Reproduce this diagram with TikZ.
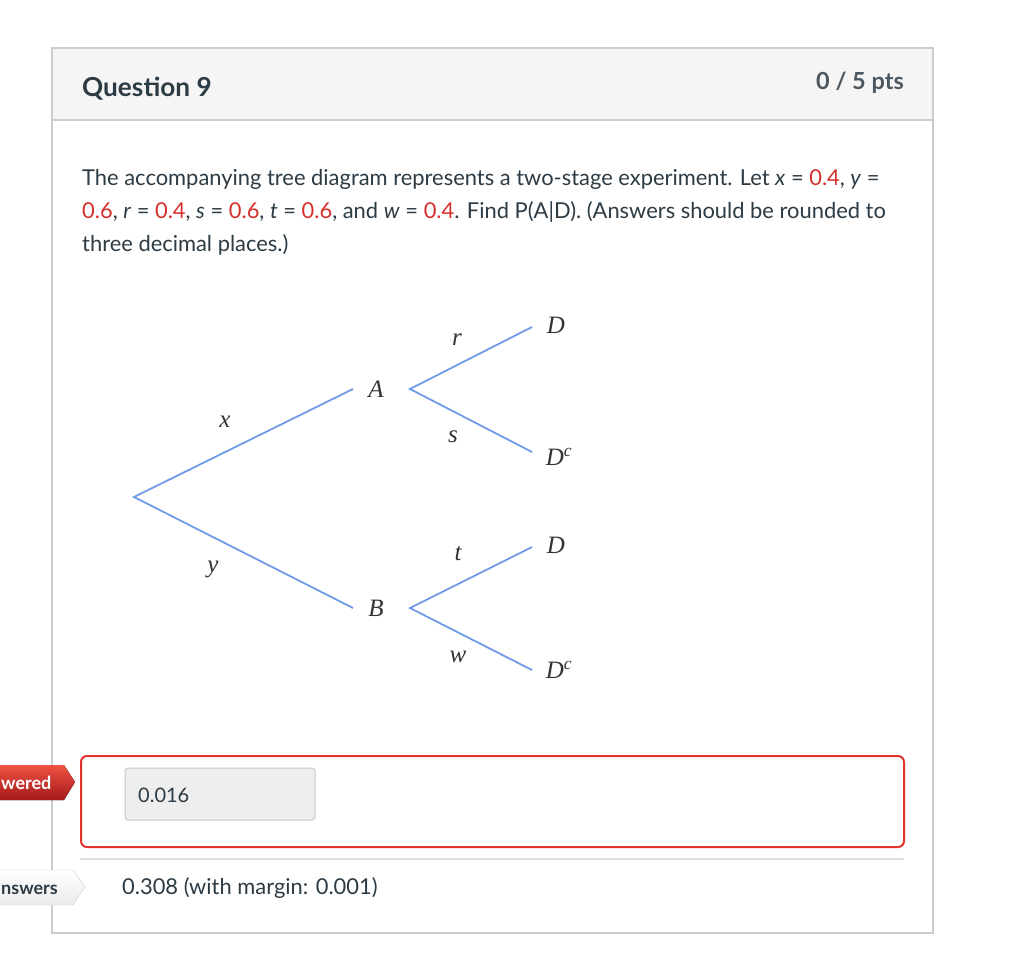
\documentclass[tikz,border=0pt]{standalone}
\usepackage{fontspec}
\setmainfont{Lato}
\newfontfamily\treefont{Liberation Serif}
\usetikzlibrary{shapes.symbols}
\definecolor{txt}{HTML}{2D3B45}
\definecolor{hdr}{HTML}{F5F5F5}
\definecolor{brd}{HTML}{C7CDD1}
\definecolor{ans}{HTML}{D5302B}
\definecolor{branch}{HTML}{6F9BE8}
\definecolor{boxred}{HTML}{E3342C}
\definecolor{inp}{HTML}{EEEEEE}
\definecolor{inpb}{HTML}{C8C8C8}
\newcommand{\num}[1]{\textcolor{ans}{#1}}
\tikzset{
  body/.style={font=\fontsize{21.9}{24}\selectfont, text=txt, inner sep=0pt, anchor=base west},
  lbl/.style={font=\treefont\itshape\fontsize{25}{26}\selectfont, text=black!80, inner sep=0pt},
  br/.style={draw=branch, line width=1.8pt},
}
\begin{document}
\begin{tikzpicture}[x=1pt,y=-1pt]
\useasboundingbox (0,0) rectangle (1024,973);
\fill[white] (0,0) rectangle (1024,973);
% question frame
\fill[hdr] (52,48) rectangle (933,120);
\draw[brd, line width=1.2pt] (52,48) rectangle (933,933);
\draw[brd, line width=1.2pt] (52,120) -- (933,120);
\node[body, font=\bfseries\fontsize{26.2}{28}\selectfont] (q) at (82,97) {Question 9};
\node[body, anchor=base east, font=\bfseries\fontsize{23.5}{26}\selectfont, text=txt!85] (pts) at (904,90) {0 / 5 pts};
% question text
\node[body] (l1) at (82,186) {The accompanying tree diagram represents a two-stage experiment. Let \textit{x} = \num{0.4}, \textit{y} =};
\node[body] (l2) at (82,219) {\num{0.6}, \textit{r} = \num{0.4}, \textit{s} = \num{0.6}, \textit{t} = \num{0.6}, and \textit{w} = \num{0.4}. Find P(A|D). (Answers should be rounded to};
\node[body] (l3) at (82,252) {three decimal places.)};
% tree
\coordinate (root) at (134,497);
\coordinate (a0) at (353,389);
\coordinate (a1) at (410,389);
\coordinate (b0) at (353,608);
\coordinate (b1) at (410,608);
\coordinate (d1) at (532,327);
\coordinate (d2) at (532,452);
\coordinate (d3) at (532,547);
\coordinate (d4) at (532,670);
\draw[br] (a0) -- (root) -- (b0);
\draw[br] (d1) -- (a1) -- (d2);
\draw[br] (d3) -- (b1) -- (d4);
\node[lbl] (A) at (376,389) {A};
\node[lbl] (B) at (376,608) {B};
\node[lbl] (D1) at (556,325) {D};
\node[lbl] (D2) at (559,457) {D\textsuperscript{c}};
\node[lbl] (D3) at (556,545) {D};
\node[lbl] (D4) at (559,670) {D\textsuperscript{c}};
\node[lbl] (x) at (225,422) {x};
\node[lbl] (y) at (213,569) {y};
\node[lbl] (r) at (457,340) {r};
\node[lbl] (s) at (453,437) {s};
\node[lbl] (t) at (458,554) {t};
\node[lbl] (w) at (458,657) {w};
% answer area
\draw[boxred, line width=2pt, rounded corners=6pt] (81,756) rectangle (904,847);
\draw[inpb, fill=inp, line width=1pt, rounded corners=3pt] (125,768) rectangle (315,820);
\node[body, font=\fontsize{20}{22}\selectfont] (v) at (138,802) {0.016};
\draw[black!12, line width=1.2pt] (80,859) -- (904,859);
\node[body] (c) at (122,894) {0.308 (with margin: 0.001)};
% tags
\fill[top color=red!70!brown!80, bottom color=red!60!black!90] (-5,765) -- (64,765) -- (75,782) -- (64,800) -- (-5,800) -- cycle;
\node[body, font=\bfseries\fontsize{18}{20}\selectfont, text=white] (tag1) at (1,789) {wered};
\draw[black!20, top color=white, bottom color=black!8] (-5,870) -- (73,870) -- (85,887) -- (73,905) -- (-5,905) -- cycle;
\node[body, font=\bfseries\fontsize{18}{20}\selectfont, text=txt] (tag2) at (1,894) {nswers};
\end{tikzpicture}
\end{document}
